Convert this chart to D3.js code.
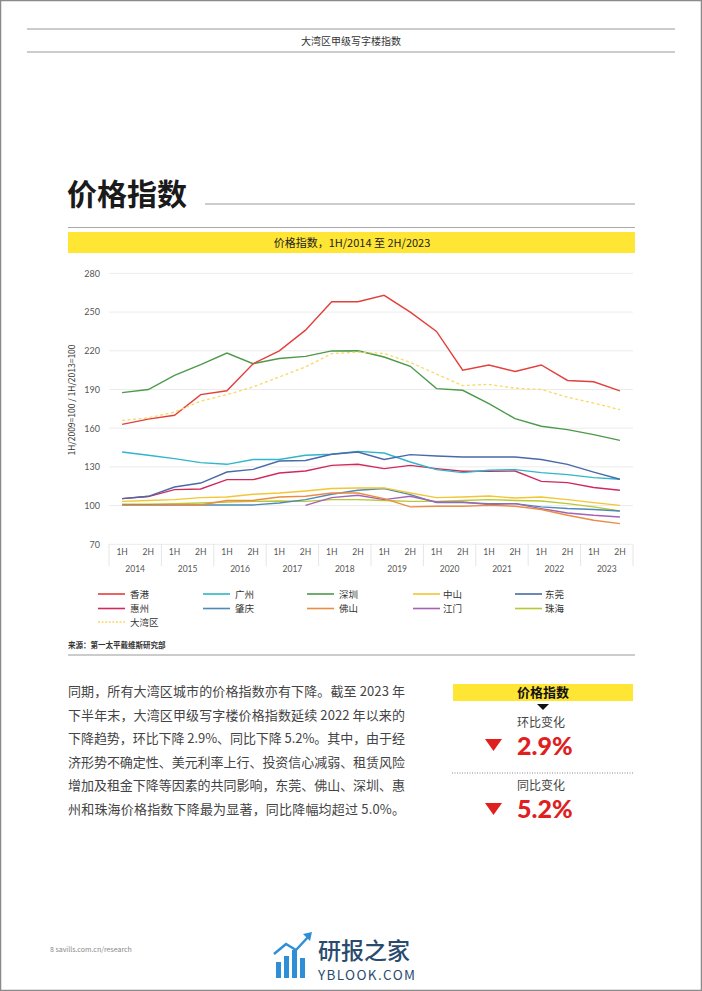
<!DOCTYPE html>
<html><head><meta charset="utf-8">
<script src="https://cdn.jsdelivr.net/npm/d3@7/dist/d3.min.js"></script>
<style>
html,body{margin:0;padding:0;background:#fff;}
svg{display:block;font-family:"Noto Sans CJK SC","Noto Sans",sans-serif;}
</style></head>
<body><svg id="c" width="702" height="991"></svg>
<script>
const periods = ["1H","2H","1H","2H","1H","2H","1H","2H","1H","2H","1H","2H","1H","2H","1H","2H","1H","2H","1H","2H"];
const years = ["2014","2015","2016","2017","2018","2019","2020","2021","2022","2023"];
const yTicks = [70,100,130,160,190,220,250,280];

const hongkong  = [163,167,170,186,189,210,220,236,258,258,263,250,235,205,209,204,209,197,196,189];
const guangzhou = [141.5,139,136.4,133.3,132,135.7,135.7,139,139.8,142,140.8,133.8,127.9,125.6,127.4,127.9,125.6,124,121.7,120.4];
const shenzhen  = [187.6,190,201,209.3,218.3,210,214,215.7,219.9,220,215.2,208,190.7,189.4,179,167.4,161.5,158.9,155,150.6];
const zhongshan = [103.3,104,104.6,106.2,106.7,108.8,109.8,111.3,113.2,113.7,113.7,109.8,106.2,106.7,107.4,105.9,106.7,104.6,102.3,100.2];
const dongguan  = [105.4,107.2,114.4,117.5,126,128.1,134.6,135,139.8,141.5,135.7,139.5,138.4,137.7,137.7,137.7,135.7,132,126,120.4];
const huizhou   = [105.4,107,112.4,112.9,120.1,120.1,125.3,126.8,131.2,132,128.7,131.2,128.7,126.6,126.6,126.8,118.8,117.8,114,111.9];
const zhaoqing  = [100.5,100.5,100.5,100.5,100.5,100.5,102,104.6,108.8,111.9,113.2,108.5,102.3,102.3,101.5,101.5,99,97.7,97,95.8];
const foshan    = [100.2,100.2,100.5,100.5,104,104,106.7,107.2,109.8,109.8,105.4,99,99.5,99.5,100.2,99.5,97,92.5,88.6,86];
const jiangmen  = [null,null,null,null,null,null,null,100.2,106.2,108,104.6,107.2,102.8,102.8,100.8,101.5,97.7,94.3,92.5,91.2];
const zhuhai    = [101,101,101.5,102,102.8,103.3,103.6,103.3,104.6,104.6,104,103.3,103.3,104,104.6,104,103.6,101.5,99,95.8];
const gba       = [166,168,172.5,181,186,192,199.7,207.5,217.8,219,218,211,202,193,194,191,190,184,179.5,174.4];

const seriesNames = ["香港","广州","深圳","中山","东莞","惠州","肇庆","佛山","江门","珠海","大湾区"];
const seriesData = [hongkong,guangzhou,shenzhen,zhongshan,dongguan,huizhou,zhaoqing,foshan,jiangmen,zhuhai,gba];
const seriesColors = ["#e2403c","#2fb6c9","#4b9a4a","#f2c634","#4a69a8","#d02a5c","#4f8ab7","#ea8c44","#a263b2","#b9c934","#f7d964"];
const drawOrder = [9,6,8,7,3,5,1,4,2,0,10];

const svg = d3.select("#c");

// page border
svg.append("rect").attr("x",0.5).attr("y",0.5).attr("width",701).attr("height",990)
  .attr("fill","none").attr("stroke","#8a8a8a").attr("stroke-width",1.5);

// header
svg.append("line").attr("x1",27).attr("x2",675).attr("y1",29).attr("y2",29).attr("stroke","#999").attr("stroke-width",1);
svg.append("line").attr("x1",27).attr("x2",675).attr("y1",52).attr("y2",52).attr("stroke","#999").attr("stroke-width",1);
svg.append("text").attr("x",351).attr("y",45).attr("text-anchor","middle").attr("font-size",10).attr("fill","#333").text("大湾区甲级写字楼指数");

// title
svg.append("text").attr("x",67).attr("y",205).attr("font-size",30).attr("font-weight",700).attr("fill","#1a1a1a").text("价格指数");
svg.append("line").attr("x1",205).attr("x2",635).attr("y1",204).attr("y2",204).attr("stroke","#999").attr("stroke-width",1);
svg.append("line").attr("x1",68).attr("x2",635).attr("y1",227.5).attr("y2",227.5).attr("stroke","#aaa").attr("stroke-width",1);
svg.append("rect").attr("x",68).attr("y",232).attr("width",567).attr("height",21).attr("fill","#ffe534");
svg.append("text").attr("x",352).attr("y",247).attr("text-anchor","middle").attr("font-size",11).attr("fill","#222").text("价格指数，1H/2014 至 2H/2023");

// scales
const x = d3.scaleBand().domain(d3.range(periods.length)).range([109,633]);
const y = d3.scaleLinear().domain([70,280]).range([544.3,273.4]);
const cx = i => x(i) + x.bandwidth()/2;

// grid
svg.append("g").selectAll("line").data(yTicks).join("line")
  .attr("x1",109).attr("x2",633).attr("y1",d=>y(d)).attr("y2",d=>y(d))
  .attr("stroke","#ececec").attr("stroke-width",1);

// y axis
const yAx = svg.append("g").attr("transform","translate(100,0)")
  .call(d3.axisLeft(y).tickValues(yTicks).tickSize(0).tickPadding(0));
yAx.select(".domain").remove();
yAx.selectAll("text").attr("font-size",9).attr("fill","#555").attr("font-family","Lato, 'Noto Sans', sans-serif");

svg.append("text").attr("transform","translate(75,400) rotate(-90)").attr("text-anchor","middle")
  .attr("font-size",8.5).attr("fill","#333").text("1H/2009=100 / 1H/2013=100");

// x axis
const xAx = svg.append("g").attr("transform","translate(0,549)")
  .call(d3.axisBottom(x).tickFormat(i=>periods[i]).tickSize(0).tickPadding(0));
xAx.select(".domain").remove();
xAx.selectAll("text").attr("font-size",8.5).attr("fill","#555").attr("font-family","Lato, 'Noto Sans', sans-serif");

const yearW = x.bandwidth()*2;
svg.append("g").selectAll("line").data(d3.range(years.length+1)).join("line")
  .attr("x1",i=>x(0)+i*yearW).attr("x2",i=>x(0)+i*yearW).attr("y1",544).attr("y2",566)
  .attr("stroke","#e6e6e6").attr("stroke-width",1);
svg.append("g").selectAll("text").data(years).join("text")
  .attr("x",(d,i)=>x(i*2)+yearW/2).attr("y",572).attr("text-anchor","middle")
  .attr("font-size",8.5).attr("fill","#555").attr("font-family","Lato, 'Noto Sans', sans-serif").text(d=>d);

// lines
const line = d3.line().defined(d=>d!=null).x((d,i)=>cx(i)).y(d=>y(d));
svg.append("g").selectAll("path").data(drawOrder).join("path")
  .attr("d",k=>line(seriesData[k])).attr("fill","none")
  .attr("stroke",k=>seriesColors[k]).attr("stroke-width",k=>k===10?1.3:1.4)
  .attr("stroke-dasharray",k=>k===10?"3,2.5":null);

// legend
const legCols = [98,203,307,413,515];
const legRows = [594,608.5,622];
const lg = svg.append("g").selectAll("g").data(seriesNames).join("g")
  .attr("transform",(d,i)=>`translate(${legCols[i%5]},${legRows[Math.floor(i/5)]})`);
lg.append("line").attr("x1",0).attr("x2",27).attr("y1",0).attr("y2",0)
  .attr("stroke",(d,i)=>seriesColors[i]).attr("stroke-width",1.6)
  .attr("stroke-dasharray",(d,i)=>i===10?"2,1.6":null);
lg.append("text").attr("x",(d,i)=>i%5===3||i%5===4?30:32).attr("y",3.5).attr("font-size",9.5).attr("fill","#333").text(d=>d);

// source
svg.append("text").attr("x",68).attr("y",648).attr("font-size",7.5).attr("font-weight",700).attr("fill","#333").text("来源：第一太平戴维斯研究部");
svg.append("line").attr("x1",68).attr("x2",635).attr("y1",655).attr("y2",655).attr("stroke","#999").attr("stroke-width",1);

// paragraph
const para = ["同期，所有大湾区城市的价格指数亦有下降。截至 2023 年",
"下半年末，大湾区甲级写字楼价格指数延续 2022 年以来的",
"下降趋势，环比下降 2.9%、同比下降 5.2%。其中，由于经",
"济形势不确定性、美元利率上行、投资信心减弱、租赁风险",
"增加及租金下降等因素的共同影响，东莞、佛山、深圳、惠",
"州和珠海价格指数下降最为显著，同比降幅均超过 5.0%。"];
svg.append("g").selectAll("text").data(para).join("text")
  .attr("x",68).attr("y",(d,i)=>696+i*23.5).attr("font-size",13).attr("fill","#444")
  .attr("textLength",337).attr("lengthAdjust","spacing").text(d=>d);

// right panel
svg.append("rect").attr("x",453).attr("y",684).attr("width",180).attr("height",17).attr("fill","#ffe534");
svg.append("text").attr("x",543).attr("y",697).attr("text-anchor","middle").attr("font-size",13).attr("font-weight",700).attr("fill","#111").text("价格指数");
svg.append("path").attr("d","M537,704 L549,704 L543,710 Z").attr("fill","#111");
svg.append("text").attr("x",541).attr("y",727).attr("text-anchor","middle").attr("font-size",12).attr("fill","#444").text("环比变化");
svg.append("path").attr("d","M485,739 L502,739 L493.5,751 Z").attr("fill","#e0201e");
svg.append("text").attr("x",517).attr("y",755).attr("font-size",25).attr("font-weight",900).attr("fill","#e0201e").attr("font-family","Lato, 'Noto Sans', sans-serif").text("2.9%");
svg.append("line").attr("x1",452).attr("x2",634).attr("y1",773).attr("y2",773).attr("stroke","#888").attr("stroke-width",1).attr("stroke-dasharray","1,1.5");
svg.append("text").attr("x",541).attr("y",790).attr("text-anchor","middle").attr("font-size",12).attr("fill","#444").text("同比变化");
svg.append("path").attr("d","M485,803 L502,803 L493.5,815 Z").attr("fill","#e0201e");
svg.append("text").attr("x",517).attr("y",818).attr("font-size",25).attr("font-weight",900).attr("fill","#e0201e").attr("font-family","Lato, 'Noto Sans', sans-serif").text("5.2%");

// footer
svg.append("text").attr("x",50).attr("y",952).attr("font-size",7).attr("fill","#888").text("8  savills.com.cn/research");
const wm = svg.append("g");
[[276,962,5,16],[284,956,5,22],[292,950,5,28],[300,958,5,20]].forEach(b=>{
  wm.append("rect").attr("x",b[0]).attr("y",b[1]).attr("width",b[2]).attr("height",978-b[1]).attr("fill","#2f8fd6");
});
wm.append("path").attr("d","M274,954 L286,944 L296,950 L309,936").attr("fill","none").attr("stroke","#2f8fd6").attr("stroke-width",2.5);
wm.append("path").attr("d","M303,934 L312,932 L310,941 Z").attr("fill","#2f8fd6");
wm.append("text").attr("x",318).attr("y",959).attr("font-size",23).attr("fill","#2a4b6e").attr("font-weight",500).text("研报之家");
wm.append("text").attr("x",318).attr("y",980).attr("font-size",13.5).attr("fill","#2a4b6e").attr("textLength",97).text("YBLOOK.COM");
</script></body></html>
